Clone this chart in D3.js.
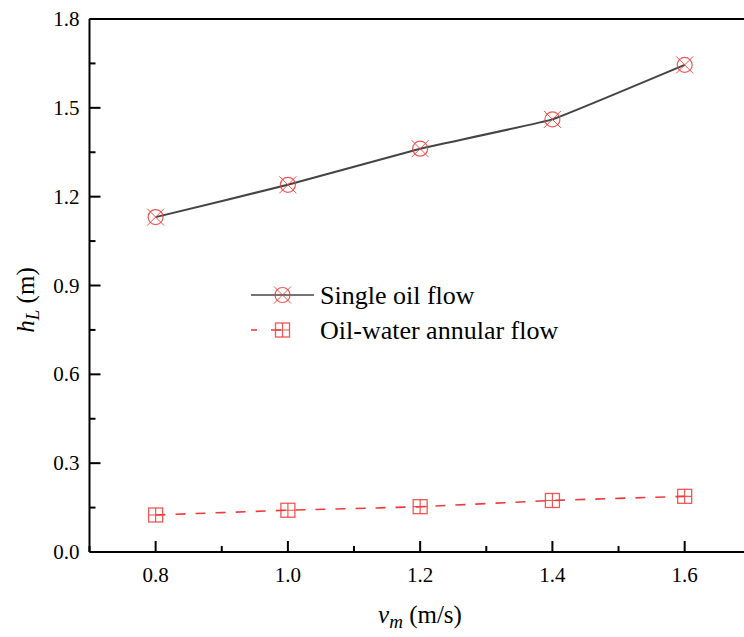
<!DOCTYPE html>
<html>
<head>
<meta charset="utf-8">
<script src="https://cdn.jsdelivr.net/npm/d3@7"></script>
<style>
  html, body { margin: 0; padding: 0; background: #fff; }
  svg { display: block; }
</style>
</head>
<body>
<svg id="chart" width="744" height="637"></svg>
<script>
// Flow velocity (m/s)
const velocities = [0.8, 1.0, 1.2, 1.4, 1.6];
// Head loss h_L (m)
const singleOilFlow = [1.131, 1.240, 1.362, 1.461, 1.645];
const annularFlow = [0.125, 0.141, 0.153, 0.174, 0.188];
// Axis ticks
const xMajorTicks = [0.8, 1.0, 1.2, 1.4, 1.6];
const xMinorTicks = [0.7, 0.9, 1.1, 1.3, 1.5];
const yMajorTicks = [0.0, 0.3, 0.6, 0.9, 1.2, 1.5, 1.8];
const yMinorTicks = [0.15, 0.45, 0.75, 1.05, 1.35, 1.65];
const seriesNames = ["Single oil flow", "Oil-water annular flow"];

const svg = d3.select("#chart")
  .attr("font-family", "'Liberation Serif', 'Times New Roman', serif");
const x = d3.scaleLinear().domain([0.7, 1.7]).range([89.5, 750.8]);
const y = d3.scaleLinear().domain([0, 1.8]).range([552, 19]);

const red = "#f03a3a";

// Frame: left, bottom and top lines
const frame = svg.append("g").attr("stroke", "#000").attr("stroke-width", 2).attr("fill", "none");
frame.append("line").attr("x1", x(0.7)).attr("x2", x(0.7)).attr("y1", y(1.8)).attr("y2", y(0));
frame.append("line").attr("x1", x(0.7)).attr("x2", 744).attr("y1", y(0)).attr("y2", y(0));
frame.append("line").attr("x1", x(0.7)).attr("x2", 744).attr("y1", y(1.8)).attr("y2", y(1.8));

// Inward-pointing ticks
const ticks = svg.append("g").attr("stroke", "#000").attr("stroke-width", 2);
xMajorTicks.forEach(v => ticks.append("line").attr("x1", x(v)).attr("x2", x(v)).attr("y1", y(0)).attr("y2", y(0) - 11));
xMinorTicks.forEach(v => ticks.append("line").attr("x1", x(v)).attr("x2", x(v)).attr("y1", y(0)).attr("y2", y(0) - 6));
yMajorTicks.forEach(v => ticks.append("line").attr("x1", x(0.7)).attr("x2", x(0.7) + 11).attr("y1", y(v)).attr("y2", y(v)));
yMinorTicks.forEach(v => ticks.append("line").attr("x1", x(0.7)).attr("x2", x(0.7) + 6).attr("y1", y(v)).attr("y2", y(v)));

// Tick labels
svg.append("g").selectAll("text").data(xMajorTicks).join("text")
  .attr("x", d => x(d)).attr("y", y(0) + 30)
  .attr("text-anchor", "middle").attr("font-size", 21)
  .text(d => d.toFixed(1));
svg.append("g").selectAll("text").data(yMajorTicks).join("text")
  .attr("x", x(0.7) - 10).attr("y", d => y(d) + 7)
  .attr("text-anchor", "end").attr("font-size", 21)
  .text(d => d.toFixed(1));

// Axis titles
const xt = svg.append("text").attr("x", 420).attr("y", 623).attr("text-anchor", "middle").attr("font-size", 25);
xt.append("tspan").attr("font-style", "italic").text("v");
xt.append("tspan").attr("font-style", "italic").attr("font-size", 19).attr("dy", 5).text("m");
xt.append("tspan").attr("dy", -5).text(" (m/s)");

const yt = svg.append("text").attr("transform", "translate(34,300) rotate(-90)").attr("text-anchor", "middle").attr("font-size", 25);
yt.append("tspan").attr("font-style", "italic").text("h");
yt.append("tspan").attr("font-style", "italic").attr("font-size", 19).attr("dy", 5).text("L");
yt.append("tspan").attr("dy", -5).text(" (m)");

// Marker glyphs
function circleX(g, cx, cy) {
  const r = 7.5, d = 8.5;
  g.append("circle").attr("cx", cx).attr("cy", cy).attr("r", r)
    .attr("fill", "none").attr("stroke", red).attr("stroke-width", 1.2).attr("opacity", 0.85);
  g.append("path").attr("d", `M${cx - d},${cy - d}L${cx + d},${cy + d}M${cx - d},${cy + d}L${cx + d},${cy - d}`)
    .attr("stroke", red).attr("stroke-width", 1).attr("opacity", 0.85);
}
function squarePlus(g, cx, cy) {
  const h = 7;
  g.append("rect").attr("x", cx - h).attr("y", cy - h).attr("width", 2 * h).attr("height", 2 * h)
    .attr("fill", "none").attr("stroke", red).attr("stroke-width", 1.3).attr("opacity", 0.85);
  g.append("path").attr("d", `M${cx - h},${cy}L${cx + h},${cy}M${cx},${cy - h}L${cx},${cy + h}`)
    .attr("stroke", red).attr("stroke-width", 1.2).attr("opacity", 0.85);
}

const lineGen = d3.line().x(d => x(d[0])).y(d => y(d[1])).curve(d3.curveCardinal.tension(0.75));
const oilPts = velocities.map((v, i) => [v, singleOilFlow[i]]);
const annPts = velocities.map((v, i) => [v, annularFlow[i]]);

svg.append("path").datum(oilPts).attr("d", lineGen)
  .attr("fill", "none").attr("stroke", "#444").attr("stroke-width", 2);
svg.append("path").datum(annPts).attr("d", lineGen)
  .attr("fill", "none").attr("stroke", red).attr("stroke-width", 1.6).attr("stroke-dasharray", "10,10");

const mk = svg.append("g");
oilPts.forEach(p => circleX(mk, x(p[0]), y(p[1])));
annPts.forEach(p => squarePlus(mk, x(p[0]), y(p[1])));

// Legend
const lg = svg.append("g");
lg.append("line").attr("x1", 251).attr("x2", 314).attr("y1", 295).attr("y2", 295)
  .attr("stroke", "#444").attr("stroke-width", 1.6);
circleX(lg, 282.5, 295);
lg.append("line").attr("x1", 251).attr("x2", 314).attr("y1", 330).attr("y2", 330)
  .attr("stroke", red).attr("stroke-width", 1.6).attr("stroke-dasharray", "6,14,10,50");
squarePlus(lg, 282.5, 330);
lg.append("text").attr("x", 320).attr("y", 304).attr("font-size", 26).text(seriesNames[0]);
lg.append("text").attr("x", 320).attr("y", 339).attr("font-size", 26).text(seriesNames[1]);
</script>
</body>
</html>
